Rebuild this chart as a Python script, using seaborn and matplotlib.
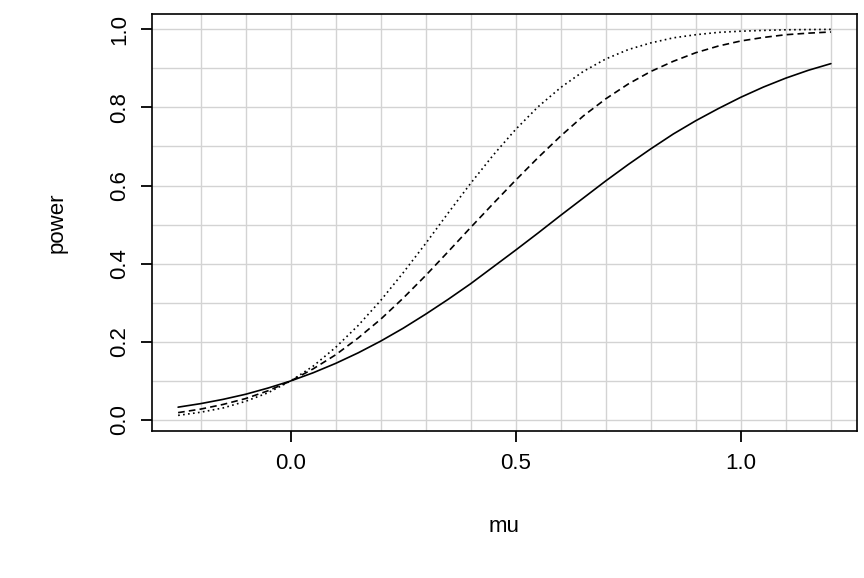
import numpy as np
import pandas as pd
import matplotlib
matplotlib.use("Agg")
import matplotlib.pyplot as plt
import seaborn as sns

mu = [-0.25, -0.2, -0.15, -0.1, -0.05, 0.0, 0.05, 0.1, 0.15, 0.2, 0.25, 0.3, 0.35, 0.4, 0.45,
      0.5, 0.55, 0.6, 0.65, 0.7, 0.75, 0.8, 0.85, 0.9, 0.95, 1.0, 1.05, 1.1, 1.15, 1.2]
power_solid = [0.033, 0.042, 0.053, 0.066, 0.082, 0.100, 0.121, 0.145, 0.172, 0.202, 0.235, 0.271,
               0.309, 0.349, 0.392, 0.435, 0.479, 0.524, 0.568, 0.612, 0.654, 0.694, 0.732, 0.766,
               0.797, 0.826, 0.852, 0.875, 0.895, 0.912]
power_dashed = [0.019, 0.028, 0.040, 0.055, 0.075, 0.100, 0.131, 0.167, 0.210, 0.258, 0.312, 0.370,
                0.431, 0.493, 0.554, 0.614, 0.672, 0.727, 0.778, 0.822, 0.860, 0.892, 0.918, 0.940,
                0.957, 0.970, 0.979, 0.986, 0.990, 0.993]
power_dotted = [0.012, 0.020, 0.031, 0.048, 0.070, 0.100, 0.138, 0.186, 0.242, 0.306, 0.377, 0.452,
                0.530, 0.606, 0.678, 0.744, 0.802, 0.851, 0.892, 0.924, 0.948, 0.965, 0.978, 0.986,
                0.992, 0.995, 0.997, 0.9986, 0.9992, 0.9996]
x_ticks = [0.0, 0.5, 1.0]
y_ticks = [0.0, 0.2, 0.4, 0.6, 0.8, 1.0]

df = pd.DataFrame({"mu": mu, "solid": power_solid, "dashed": power_dashed, "dotted": power_dotted})

sns.set_style("white")
plt.rcParams["font.family"] = ["Liberation Sans", "DejaVu Sans"]
plt.rcParams["text.color"] = "black"
plt.rcParams["axes.labelcolor"] = "black"
plt.rcParams["xtick.bottom"] = True
plt.rcParams["ytick.left"] = True
plt.rcParams["xtick.color"] = "black"
plt.rcParams["ytick.color"] = "black"
plt.rcParams["xtick.major.size"] = 8
plt.rcParams["ytick.major.size"] = 8
plt.rcParams["xtick.major.width"] = 1.3
plt.rcParams["ytick.major.width"] = 1.3

fig = plt.figure(figsize=(8.64, 5.78), dpi=100)
ax = fig.add_axes([152 / 864, 1 - 431 / 578, (857 - 152) / 864, (431 - 14) / 578])

for v in np.arange(-0.2, 1.25, 0.1):
    ax.axvline(v, color="#d3d3d3", lw=1, zorder=0)
for v in np.arange(0, 1.05, 0.1):
    ax.axhline(v, color="#d3d3d3", lw=1, zorder=0)

sns.lineplot(data=df, x="mu", y="solid", color="black", lw=1.2, ax=ax)
sns.lineplot(data=df, x="mu", y="dashed", color="black", lw=1.2, ax=ax, linestyle=(0, (4, 2.5)))
sns.lineplot(data=df, x="mu", y="dotted", color="black", lw=1.2, ax=ax, linestyle=(0, (1, 2)))

ax.set_xlim(-0.308, 1.258)
ax.set_ylim(-0.028, 1.039)
ax.set_xticks(x_ticks)
ax.set_xticklabels(["0.0", "0.5", "1.0"])
ax.set_yticks(y_ticks)
ax.set_yticklabels(["0.0", "0.2", "0.4", "0.6", "0.8", "1.0"], rotation=90, va="center")
ax.tick_params(axis="both", labelsize=16, labelcolor="black", pad=8)

ax.set_xlabel("mu", fontsize=16, labelpad=30)
ax.set_ylabel("power", fontsize=16, labelpad=30)
for s in ax.spines.values():
    s.set_color("black")
    s.set_linewidth(1.2)

fig.savefig("out.png", dpi=100, facecolor="white")
